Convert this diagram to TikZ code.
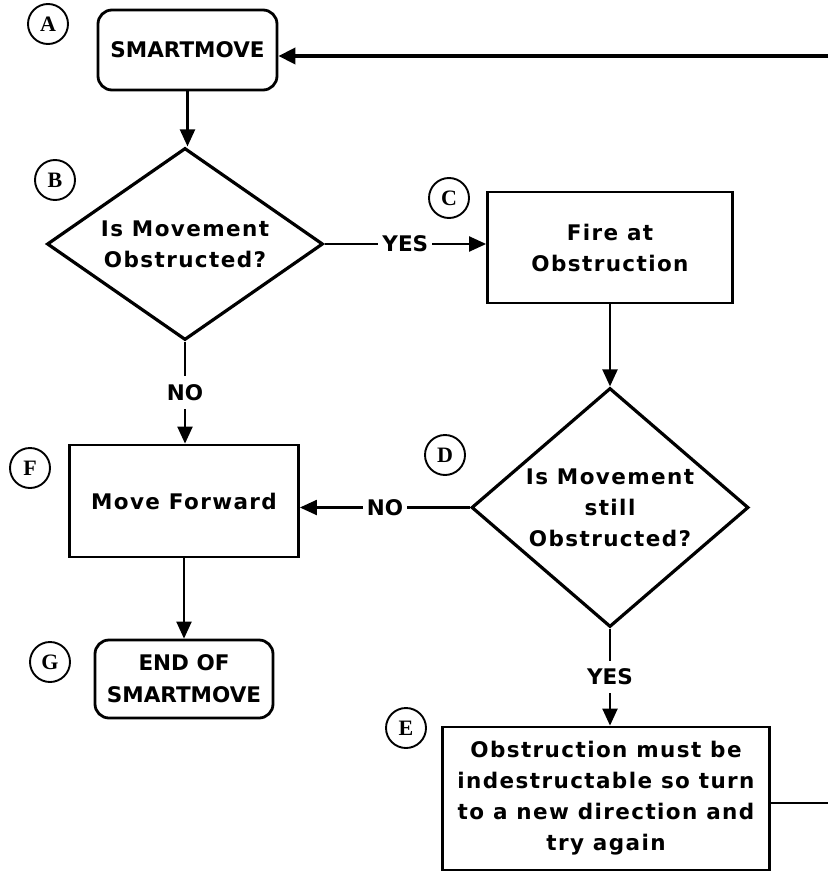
\documentclass[tikz,border=0pt]{standalone}
\usepackage{fontspec}
\usetikzlibrary{shapes.geometric,arrows.meta}
\newfontfamily\chic{DejaVu Sans}[LetterSpace=6.5]
\newfontfamily\chiccaps{DejaVu Sans}[LetterSpace=0]
\newfontfamily\tagserif{Liberation Serif}
\newcommand{\boxfont}{\chic\bfseries\fontsize{21.5}{31}\selectfont}
\newcommand{\capsfont}{\chiccaps\bfseries\fontsize{21.5}{32}\selectfont}
\newcommand{\tagfont}{\tagserif\bfseries\fontsize{22}{24}\selectfont}
\begin{document}
\begin{tikzpicture}[x=1pt,y=-1pt,
  tag/.style={circle, draw, line width=1.9pt, minimum size=40pt, inner sep=0pt, font=\tagfont},
  term/.style={draw, rounded corners=14pt, line width=2.8pt, inner sep=0pt, font=\capsfont, align=center},
  proc/.style={draw, line width=2.8pt, inner sep=0pt, font=\boxfont, align=center},
  decide/.style={diamond, draw, line width=3.2pt, inner sep=0pt, font=\boxfont, align=center},
  flow/.style={line width=2.2pt, -{Triangle[width=15pt,length=17pt]}},
  lbl/.style={fill=white, font=\capsfont, inner xsep=4pt, inner ysep=8pt}]
\useasboundingbox (0,0) rectangle (828,872);

% step tags
\node[tag] (tA) at (48,24) {A};
\node[tag] (tB) at (55,180) {B};
\node[tag] (tC) at (449,198) {C};
\node[tag] (tD) at (445,455) {D};
\node[tag] (tE) at (406,728) {E};
\node[tag] (tF) at (30,468) {F};
\node[tag] (tG) at (50,662) {G};

% flowchart boxes
\node[term, minimum width=179pt, minimum height=80pt] (A) at (187.5,50) {SMARTMOVE};
\node[decide, minimum width=276pt, minimum height=192pt, aspect=1.44] (B) at (185,244) {Is Movement\\Obstructed?};
\node[proc, minimum width=245pt, minimum height=111pt] (C) at (610,247.5) {Fire at\\Obstruction};
\node[decide, minimum width=277pt, minimum height=239pt, aspect=1.16] (D) at (610,507.5) {Is Movement\\still\\Obstructed?};
\node[proc, minimum width=229pt, minimum height=112pt] (F) at (184,501) {Move Forward};
\node[term, minimum width=178pt, minimum height=78pt] (G) at (184,679) {END OF\\SMARTMOVE};
\node[proc, minimum width=327pt, minimum height=143pt] (E) at (606,798.5) {Obstruction must be\\indestructable so turn\\to a new direction and\\try again};

% connectors
\draw[flow] (A.south) -- (A.south |- B.north);
\draw[flow] (B.east) -- node[lbl]{YES} (B.east -| C.west);
\draw[flow] (C.south) -- (D.north);
\draw[flow] (B.south) -- node[lbl]{NO} (B.south |- F.north);
\draw[flow] (D.west) -- node[lbl]{NO} (D.west -| F.east);
\draw[flow] (F.south) -- (G.north);
\draw[flow] (D.south) -- node[lbl]{YES} (D.south |- E.north);

% loop back from E to A, running off the right edge
\coordinate (loopin) at (828,56);
\coordinate (loopout) at (828,803);
\draw[line width=3.8pt, -{Triangle[width=16pt,length=17pt]}] (loopin) -- (loopin -| A.east);
\draw[line width=2.2pt] (E.east |- loopout) -- (loopout);
\end{tikzpicture}
\end{document}
